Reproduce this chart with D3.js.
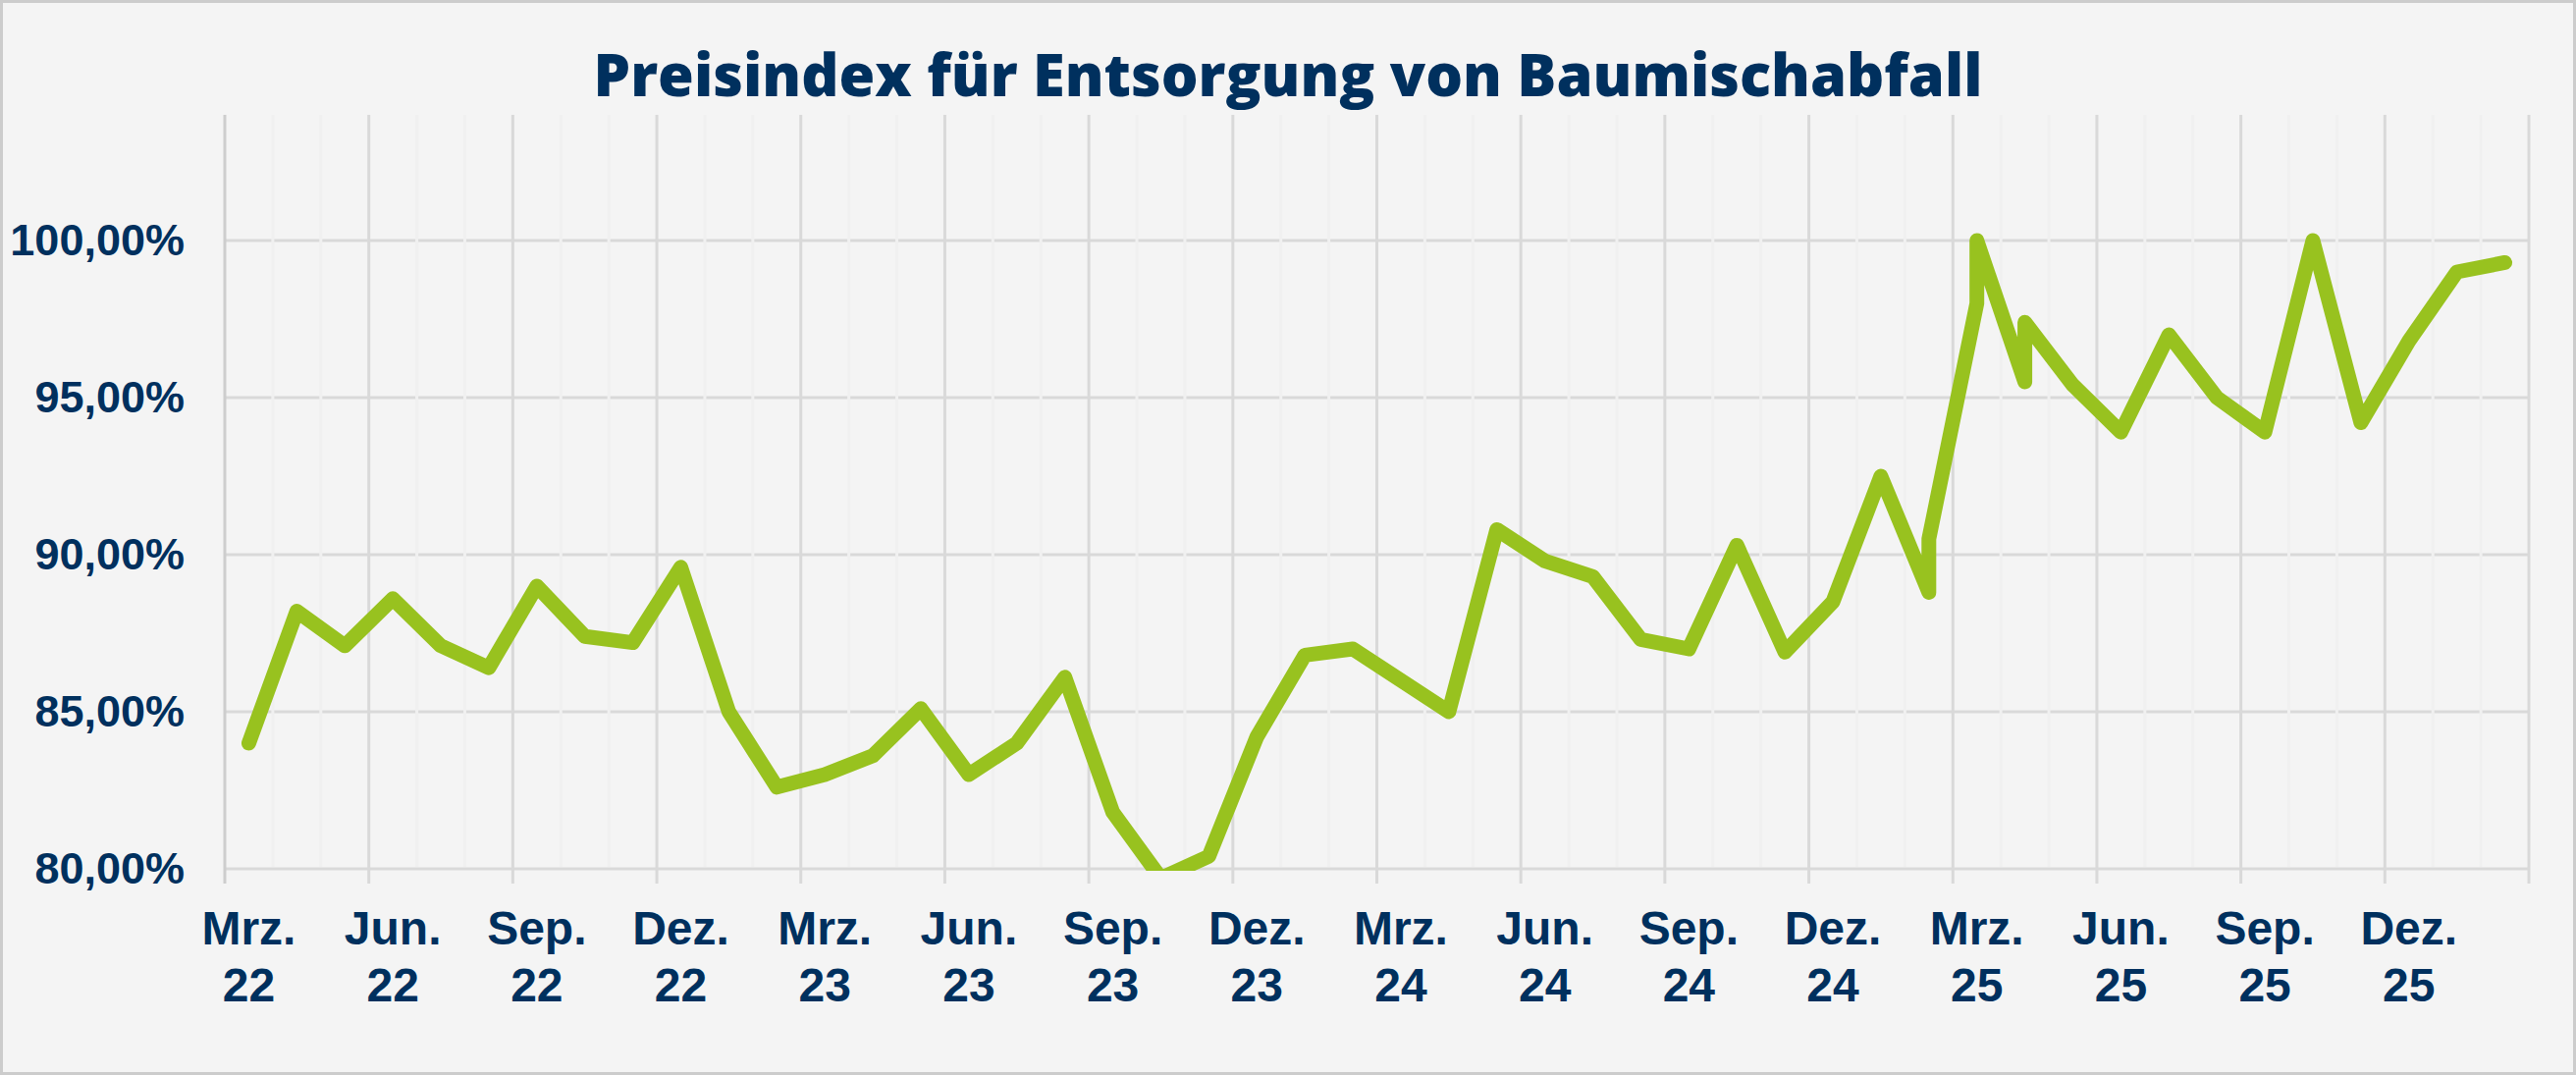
<!DOCTYPE html>
<html>
<head>
<meta charset="utf-8">
<script src="https://cdn.jsdelivr.net/npm/d3@7"></script>
<style>
  html, body { margin: 0; padding: 0; background: #f4f4f4; }
  svg { display: block; }
</style>
</head>
<body>
<div id="chart"></div>
<script>
// one entry per point; some months carry two values (revisions)
const pointMonths = [
  '2022-03', '2022-04', '2022-05', '2022-06', '2022-07', '2022-08', '2022-09', '2022-10', '2022-11', '2022-12',
  '2023-01', '2023-02', '2023-03', '2023-04', '2023-05', '2023-06', '2023-07', '2023-08', '2023-09', '2023-10', '2023-11', '2023-12',
  '2024-01', '2024-02', '2024-03', '2024-04', '2024-05', '2024-06', '2024-07', '2024-08', '2024-09', '2024-10', '2024-11', '2024-12',
  '2025-01', '2025-02', '2025-02', '2025-03', '2025-03', '2025-04', '2025-04', '2025-05', '2025-06', '2025-07', '2025-08', '2025-09',
  '2025-10', '2025-11', '2025-12', '2026-01', '2026-02'
];
const indexValues = [
  84.0, 88.2, 87.1, 88.6, 87.1, 86.4, 89.0, 87.4, 87.2, 89.6,
  85.0, 82.6, 83.0, 83.6, 85.1, 83.0, 84.0, 86.1, 81.8, 79.7, 80.4, 84.2,
  86.8, 87.0, 86.0, 85.0, 90.8, 89.8, 89.3, 87.3, 87.0, 90.3, 86.9, 88.5,
  92.5, 88.8, 90.5, 98.0, 100.0, 95.5, 97.4, 95.4, 93.9, 97.0, 95.0, 93.9,
  100.0, 94.2, 96.8, 99.0, 99.3
];
const yTicks = [80, 85, 90, 95, 100];
const yDomain = [80, 104];
const monthNames = { '03': 'Mrz.', '06': 'Jun.', '09': 'Sep.', '12': 'Dez.' };
const title = 'Preisindex für Entsorgung von Baumischabfall';

const W = 2624, H = 1095;
const plot = { left: 229, right: 2576, top: 117, bottom: 885 };
const navy = '#00305e';

const data = pointMonths.map((m, i) => ({ month: m, value: indexValues[i] }));
const months = Array.from(new Set(pointMonths));

const svg = d3.select('#chart').append('svg')
  .attr('width', W).attr('height', H);

svg.append('rect')
  .attr('x', 1.5).attr('y', 1.5)
  .attr('width', W - 3).attr('height', H - 3)
  .attr('fill', '#f4f4f4')
  .attr('stroke', '#cccccc')
  .attr('stroke-width', 3);

const x = d3.scaleBand().domain(months).range([plot.left, plot.right]).padding(0);
const y = d3.scaleLinear().domain(yDomain).range([plot.bottom, plot.top]);

const de = d3.formatLocale({ decimal: ',', thousands: '.', grouping: [3], currency: ['', ' €'] });
const fmt = de.format('.2f');

// horizontal gridlines
svg.append('g').selectAll('line').data(yTicks).join('line')
  .attr('x1', plot.left).attr('x2', plot.right)
  .attr('y1', d => y(d)).attr('y2', d => y(d))
  .attr('stroke', '#d9d9d9').attr('stroke-width', 3);

// minor monthly gridlines (drawn over the horizontal ones, like the original)
svg.append('g').selectAll('line')
  .data(months.filter((m, i) => i % 3 !== 0))
  .join('line')
  .attr('x1', d => x(d)).attr('x2', d => x(d))
  .attr('y1', plot.top).attr('y2', plot.bottom - 2)
  .attr('stroke', '#f0f0f0').attr('stroke-width', 3);

// major quarterly gridlines with tick extension
const majors = months.filter((m, i) => i % 3 === 0).map(m => x(m)).concat([plot.right]);
svg.append('g').selectAll('line').data(majors).join('line')
  .attr('x1', d => d).attr('x2', d => d)
  .attr('y1', plot.top).attr('y2', plot.bottom + 15)
  .attr('stroke', (d, i) => i === 0 ? '#cdcdcd' : '#d9d9d9')
  .attr('stroke-width', 3);

// y axis labels
const yAxis = svg.append('g')
  .attr('transform', `translate(${plot.left},0)`)
  .call(d3.axisLeft(y).tickValues(yTicks).tickSize(0).tickPadding(41).tickFormat(d => fmt(d) + '%'));
yAxis.select('.domain').remove();
yAxis.selectAll('text')
  .attr('fill', navy)
  .style('font-family', '"Liberation Sans", Arial, sans-serif')
  .style('font-weight', 700)
  .style('font-size', '45px');

// x axis labels, two lines
const xAxis = svg.append('g')
  .attr('transform', `translate(0,${plot.bottom})`)
  .call(d3.axisBottom(x).tickValues(months.filter((m, i) => i % 3 === 0)).tickSize(0));
xAxis.select('.domain').remove();
xAxis.selectAll('text')
  .attr('fill', navy)
  .attr('y', 0).attr('dy', null)
  .style('font-family', '"Liberation Sans", Arial, sans-serif')
  .style('font-weight', 700)
  .style('font-size', '48px')
  .text(null)
  .each(function (d) {
    const t = d3.select(this);
    t.append('tspan').attr('x', 0).attr('y', 77).text(monthNames[d.slice(5)]);
    t.append('tspan').attr('x', 0).attr('y', 135).text(d.slice(2, 4));
  });

// clip to plot area
svg.append('clipPath').attr('id', 'plotClip')
  .append('rect')
  .attr('x', plot.left - 20).attr('y', plot.top - 20)
  .attr('width', plot.right - plot.left + 40)
  .attr('height', plot.bottom - plot.top + 22);

const line = d3.line()
  .x(d => x(d.month) + x.bandwidth() / 2)
  .y(d => y(d.value));

svg.append('path')
  .datum(data)
  .attr('clip-path', 'url(#plotClip)')
  .attr('d', line)
  .attr('fill', 'none')
  .attr('stroke', '#98c21f')
  .attr('stroke-width', 15)
  .attr('stroke-linejoin', 'round')
  .attr('stroke-linecap', 'round');

// title
svg.append('text')
  .attr('x', W / 2).attr('y', 98)
  .attr('text-anchor', 'middle')
  .attr('fill', navy)
  .style('font-family', '"Open Sans", sans-serif')
  .style('font-weight', 800)
  .style('font-size', '59.5px')
  .text(title);
</script>
</body>
</html>
